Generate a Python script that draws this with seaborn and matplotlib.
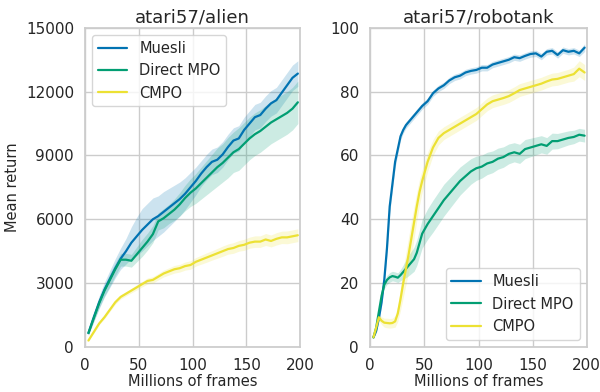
import matplotlib
matplotlib.use("Agg")
import matplotlib.pyplot as plt
import seaborn as sns
import numpy as np
import pandas as pd

# --- atari57/alien -------------------------------------------------------
alien_frames = [3, 8, 13, 18, 23, 28, 33, 38, 43, 48, 53, 58, 63, 68, 73, 78, 83, 88, 93, 98,
                103, 108, 113, 118, 123, 128, 133, 138, 143, 148, 153, 158, 163, 168, 173, 178,
                183, 188, 193, 198]
alien_muesli = [650, 1400, 2100, 2700, 3200, 3700, 4150, 4500, 4900, 5200, 5500, 5750, 6000, 6150,
                6350, 6550, 6750, 6950, 7200, 7500, 7800, 8150, 8450, 8700, 8800, 9050, 9400, 9700,
                9800, 10200, 10500, 10800, 10900, 11200, 11450, 11600, 11950, 12300, 12650, 12850]
alien_muesli_err = [100, 200, 300, 350, 400, 450, 500, 600, 750, 900, 1000, 1000, 1000, 950,
                    950, 900, 850, 800, 750, 700, 650, 600, 600, 600, 600, 600, 600, 600,
                    600, 600, 600, 600, 600, 600, 600, 600, 600, 600, 600, 600]
alien_direct = [650, 1350, 2050, 2650, 3150, 3650, 4100, 4100, 4050, 4350, 4650, 4950, 5300, 5900,
                6050, 6250, 6450, 6700, 7000, 7250, 7450, 7700, 7950, 8200, 8450, 8650, 8900, 9150,
                9300, 9550, 9800, 10000, 10150, 10350, 10550, 10700, 10850, 11000, 11200, 11500]
alien_direct_err = [100, 150, 200, 250, 300, 300, 300, 300, 300, 350, 400, 400, 400, 400,
                    450, 450, 500, 550, 600, 650, 700, 750, 800, 850, 900, 900, 950, 950,
                    1000, 1000, 1000, 1000, 1000, 1000, 1000, 1000, 1000, 1000, 1000, 1000]
alien_cmpo = [300, 700, 1100, 1400, 1750, 2100, 2350, 2500, 2650, 2800, 2950, 3100, 3150, 3300,
              3450, 3550, 3650, 3700, 3800, 3850, 4000, 4100, 4200, 4300, 4400, 4500, 4600, 4650,
              4750, 4800, 4900, 4950, 4950, 5050, 4980, 5080, 5150, 5150, 5200, 5250]
alien_cmpo_err = [40, 50, 60, 70, 80, 90, 100, 100, 110, 120, 130, 140, 150, 150,
                  160, 170, 180, 180, 190, 200, 200, 210, 220, 220, 230, 240, 240, 250,
                  250, 260, 260, 270, 270, 280, 280, 290, 290, 300, 300, 300]

# --- atari57/robotank ----------------------------------------------------
robo_frames = [3, 5.5, 8, 10.5, 13, 15.5, 18, 20.5, 23, 25.5, 28, 30.5, 33, 35.5, 38, 40.5, 43,
               45.5, 48, 53, 58, 63, 68, 73, 78, 83, 88, 93, 98, 103, 108, 113, 118, 123, 128,
               133, 138, 143, 148, 153, 158, 163, 168, 173, 178, 183, 188, 193, 198]
robo_muesli = [3, 5, 9, 14, 21, 31, 44, 51, 58, 62, 66, 68, 69.5, 70.5, 71.5, 72.5, 73.5,
               74.5, 75.5, 77, 79.5, 81, 82, 83.5, 84.5, 85, 86, 86.5, 86.8, 87.5, 87.5, 88.5,
               89, 89.5, 90, 90.8, 90.5, 91.2, 91.8, 92, 91, 92.5, 92.8, 91.5, 93, 92.5, 92.8,
               92, 93.8]
robo_muesli_err = [0.4, 0.6, 0.8, 1.2, 1.6, 2, 2, 2, 1.8, 1.5, 1.2, 1, 1, 1, 1, 1, 1,
                   1, 1, 1, 1, 1, 1, 1, 1, 1, 1, 1, 1, 1, 1, 1,
                   1, 1, 1, 1, 1, 1, 1, 1, 1, 1, 1, 1, 1, 1, 1,
                   1, 1.2]
robo_direct = [3, 6, 11, 16, 19.5, 21, 21.8, 22.2, 22, 21.7, 22.5, 23.5, 24.5, 25.5, 26.5,
               27.5, 29.5, 32.5, 35.5, 38.5, 41, 43.5, 46, 48, 50, 52, 53.5, 55, 56, 56.5, 57.5,
               58, 59, 59.5, 60.5, 61, 60.5, 62, 62.5, 63, 63.5, 63, 64.5, 64.5, 65, 65.5, 65.8,
               66.5, 66.2]
robo_direct_err = [0.4, 0.6, 0.8, 1, 1.2, 1.4, 1.5, 1.5, 1.5, 1.5, 1.8, 2.2, 2.8, 3.2, 3.5,
                   3.8, 4, 4.2, 4.5, 4.8, 5, 5, 5, 4.8, 4.6, 4.4, 4.2, 4, 3.8, 3.6, 3.5,
                   3.4, 3.3, 3.2, 3.1, 3, 3, 3, 2.9, 2.8, 2.7, 2.6, 2.5, 2.4, 2.3, 2.2, 2.1,
                   2, 2]
robo_cmpo = [3, 6, 9.3, 8.2, 7.6, 7.5, 7.4, 7.5, 8, 10.5, 15, 20, 24.5, 29, 34, 39, 44,
             48.5, 52, 58, 62.5, 65.5, 67, 68, 69, 70, 71, 72, 73, 74.5, 76, 77, 77.5, 78,
             78.6, 79.5, 80.5, 81, 81.5, 82, 82.5, 83.2, 83.8, 84, 84.5, 85, 85.5, 87.2, 86]
robo_cmpo_err = [0.4, 0.6, 1, 1.2, 1.4, 1.5, 1.5, 1.5, 1.8, 2.5, 3.5, 4.5, 5, 5.5, 5.5, 5, 4.5,
                 4, 3.5, 3, 2.5, 2.2, 2, 2, 2, 2, 2, 2, 2, 2, 2, 2, 2, 2,
                 2, 2, 2, 2, 2, 2, 2, 2, 2, 2, 2, 2, 2.2, 2.5, 2.5]

methods = ["Muesli", "Direct MPO", "CMPO"]

sns.set_theme(style="whitegrid")
pal = sns.color_palette("colorblind")
colors = {"Muesli": pal[0], "Direct MPO": pal[2], "CMPO": pal[8]}
plt.rcParams["font.family"] = ["DejaVu Sans"]


def long_table(frames, series):
    rows = []
    for name, (mean, err) in series.items():
        for f, m, e in zip(frames, mean, err):
            rows.append({"frames": f, "method": name, "ret": m, "err": e})
    return pd.DataFrame(rows)


alien = long_table(alien_frames, {"Muesli": (alien_muesli, alien_muesli_err),
                                  "Direct MPO": (alien_direct, alien_direct_err),
                                  "CMPO": (alien_cmpo, alien_cmpo_err)})
robo = long_table(robo_frames, {"Muesli": (robo_muesli, robo_muesli_err),
                                "Direct MPO": (robo_direct, robo_direct_err),
                                "CMPO": (robo_cmpo, robo_cmpo_err)})

fig = plt.figure(figsize=(6.0, 3.92), dpi=100)
ax1 = fig.add_axes([0.142, 0.115, 0.358, 0.814])
ax2 = fig.add_axes([0.617, 0.115, 0.361, 0.814])

for ax, df, title in [(ax1, alien, "atari57/alien"), (ax2, robo, "atari57/robotank")]:
    for name in methods:
        d = df[df["method"] == name]
        ax.fill_between(d["frames"], d["ret"] - d["err"], d["ret"] + d["err"],
                        color=colors[name], alpha=0.2, linewidth=0)
    sns.lineplot(data=df, x="frames", y="ret", hue="method", hue_order=methods,
                 palette=colors, linewidth=1.6, ax=ax)
    ax.set_title(title, fontsize=13, pad=4)
    ax.set_xlabel("Millions of frames", fontsize=10.5, labelpad=1)
    ax.set_xlim(0, 200)
    ax.set_xticks([0, 50, 100, 150, 200])
    ax.tick_params(labelsize=11, pad=2)

ax1.set_ylim(0, 15000)
ax1.set_yticks([0, 3000, 6000, 9000, 12000, 15000])
ax1.set_ylabel("Mean return", fontsize=10.5)
ax2.set_ylim(0, 100)
ax2.set_yticks([0, 20, 40, 60, 80, 100])
ax2.set_ylabel("")

ax1.legend(loc="upper left", fontsize=10.5, frameon=True, title=None)
ax2.legend(loc="lower right", fontsize=10.5, frameon=True, title=None)

fig.savefig("out.png", dpi=100)
